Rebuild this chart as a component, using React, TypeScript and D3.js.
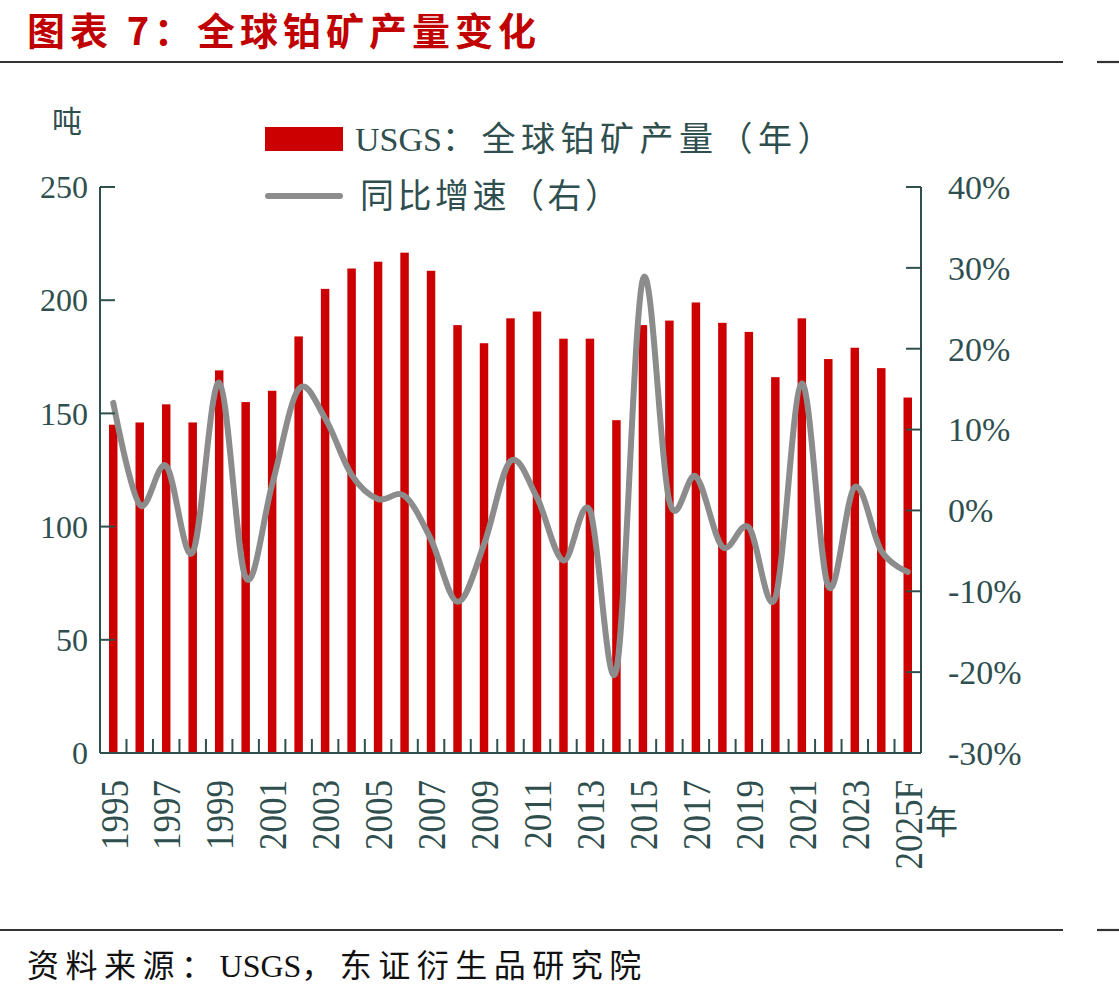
import * as d3 from "d3";

const years = [
  "1995", "1996", "1997", "1998", "1999", "2000", "2001", "2002", "2003", "2004",
  "2005", "2006", "2007", "2008", "2009", "2010", "2011", "2012", "2013", "2014",
  "2015", "2016", "2017", "2018", "2019", "2020", "2021", "2022", "2023", "2024", "2025F",
];
// USGS platinum mine output, tonnes
const output = [
  145, 146, 154, 146, 169, 155, 160, 184, 205, 214,
  217, 221, 213, 189, 181, 192, 195, 183, 183, 147,
  189, 191, 199, 190, 186, 166, 192, 174, 179, 170, 157,
];
// year-on-year change, %
const growth = [
  13.3, 0.7, 5.5, -5.2, 15.8, -8.3, 3.2, 15.0, 11.4, 4.4,
  1.4, 1.8, -3.6, -11.3, -4.2, 6.1, 1.6, -6.2, 0.0, -19.7,
  28.6, 1.1, 4.2, -4.5, -2.1, -10.8, 15.7, -9.4, 2.9, -5.0, -7.6,
];
const leftTicks = [0, 50, 100, 150, 200, 250];
const rightTicks = [-30, -20, -10, 0, 10, 20, 30, 40];

const W = 1119;
const H = 996;
const plot = { left: 100, right: 921, top: 187, bottom: 753 };
const axisColor = "#2f4f4f";
const barColor = "#cc0000";
const lineColor = "#8c8c8c";
const serif = "'Liberation Serif', 'Noto Sans CJK SC', serif";
const cjk = "'Noto Sans CJK SC', sans-serif";

export default function App() {
  const x = d3.scaleBand<string>().domain(years).range([plot.left, plot.right]).paddingInner(0.68).paddingOuter(0.34);
  const step = x.step();
  const yL = d3.scaleLinear().domain([0, 250]).range([plot.bottom, plot.top]);
  const yR = d3.scaleLinear().domain([-30, 40]).range([plot.bottom, plot.top]);
  const cx = (d: string) => (x(d) ?? 0) + x.bandwidth() / 2;

  const line = d3
    .line<number>()
    .x((_, i) => cx(years[i]))
    .y((d) => yR(d))
    .curve(d3.curveCatmullRom.alpha(0));

  return (
    <svg width={W} height={H} style={{ position: "absolute", left: 0, top: 0, background: "#fff" }}>
      <text x={27} y={45} fill="#c00000" fontFamily={cjk} fontWeight={700} fontSize={38} letterSpacing={5}>
        图表 7：全球铂矿产量变化
      </text>
      <line x1={0} x2={1063} y1={62} y2={62} stroke="#333" strokeWidth={2.2} />
      <line x1={1097} x2={W} y1={62} y2={62} stroke="#333" strokeWidth={2.2} />

      <text x={52} y={132} fill={axisColor} fontFamily={cjk} fontSize={30}>吨</text>

      {/* bars */}
      {output.map((v, i) => (
        <rect key={years[i]} x={x(years[i])} y={yL(v)} width={x.bandwidth()} height={plot.bottom - yL(v)} fill={barColor} />
      ))}

      {/* growth line */}
      <path d={line(growth) ?? ""} fill="none" stroke={lineColor} strokeWidth={6} strokeLinecap="round" strokeLinejoin="round" />

      {/* axes */}
      <g stroke={axisColor} strokeWidth={2}>
        <line x1={plot.left} x2={plot.left} y1={plot.top} y2={plot.bottom} />
        <line x1={plot.right} x2={plot.right} y1={plot.top} y2={plot.bottom} />
        <line x1={plot.left} x2={plot.right} y1={plot.bottom} y2={plot.bottom} />
        {leftTicks.map((t) => (
          <line key={"l" + t} x1={plot.left} x2={plot.left + 15} y1={yL(t)} y2={yL(t)} />
        ))}
        {rightTicks.map((t) => (
          <line key={"r" + t} x1={plot.right - 15} x2={plot.right} y1={yR(t)} y2={yR(t)} />
        ))}
        {years.slice(1).map((d, i) => (
          <line key={"b" + d} x1={plot.left + step * (i + 1)} x2={plot.left + step * (i + 1)} y1={plot.bottom - 14} y2={plot.bottom} />
        ))}
      </g>

      <g fill={axisColor} fontFamily={serif} fontSize={32}>
        {leftTicks.map((t) => (
          <text key={"lt" + t} x={88} y={yL(t)} dy="0.35em" textAnchor="end">{t}</text>
        ))}
        {rightTicks.map((t) => (
          <text key={"rt" + t} x={948} y={yR(t)} dy="0.35em" fontSize={34}>{t + "%"}</text>
        ))}
        {years.map((d, i) =>
          i % 2 === 0 ? (
            <text key={"x" + d} transform={`translate(${cx(d)},780) rotate(-90) scale(1.03,1.2)`} dy="0.35em" textAnchor="end" fontSize={34}>
              {d}
            </text>
          ) : null
        )}
      </g>
      <text x={925} y={834} fill={axisColor} fontFamily={cjk} fontSize={33}>年</text>

      {/* legend */}
      <rect x={265} y={127} width={78} height={24} fill={barColor} />
      <text x={355} y={139} dy="0.35em" fill={axisColor} fontFamily={serif} fontSize={34}>
        <tspan>USGS</tspan>
        <tspan letterSpacing={5.5}>：全球铂矿产量（年）</tspan>
      </text>
      <line x1={268} x2={340} y1={196} y2={196} stroke={lineColor} strokeWidth={6} strokeLinecap="round" />
      <text x={360} y={196} dy="0.35em" fill={axisColor} fontFamily={cjk} fontSize={34} letterSpacing={3.5}>同比增速（右）</text>

      <line x1={0} x2={1063} y1={930} y2={930} stroke="#333" strokeWidth={2.2} />
      <line x1={1097} x2={W} y1={930} y2={930} stroke="#333" strokeWidth={2.2} />
      <text x={27} y={977} fill="#111" fontFamily={serif} fontSize={32}>
        <tspan letterSpacing={6.5}>资料来源：</tspan>
        <tspan>USGS</tspan>
        <tspan letterSpacing={6.5}>，东证衍生品研究院</tspan>
      </text>
    </svg>
  );
}
